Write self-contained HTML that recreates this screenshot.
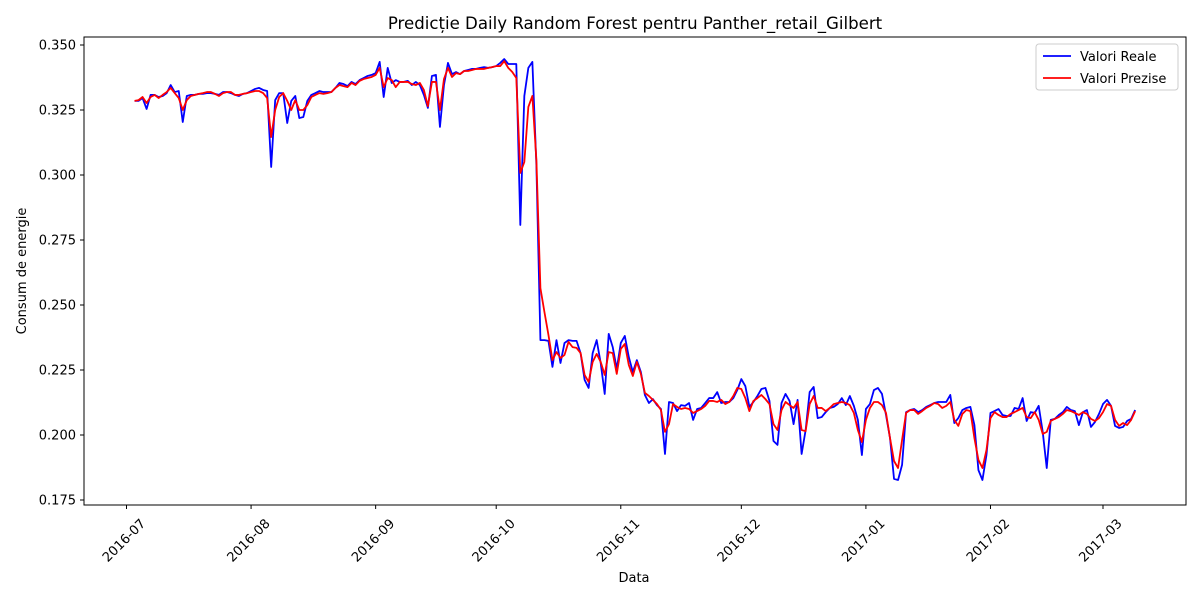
<!DOCTYPE html>
<html><head><meta charset="utf-8">
<style>
body{margin:0;background:#fff;}
svg{display:block;font-family:"DejaVu Sans","Liberation Sans",sans-serif;}
</style></head>
<body>
<svg id="chart" width="1200" height="600">
<rect x="0" y="0" width="1200" height="600" fill="#fff"/>
<text x="635" y="29" font-size="16.6" text-anchor="middle">Predicție Daily Random Forest pentru Panther_retail_Gilbert</text>
<text x="634" y="582" font-size="13" text-anchor="middle">Data</text>
<text transform="translate(26,271) rotate(-90)" font-size="13" text-anchor="middle">Consum de energie</text>
<g id="grid"></g>
<g id="series"></g>
<rect x="84" y="37" width="1102" height="468" fill="none" stroke="#000" stroke-width="1"/>
<g>
<rect x="1036" y="44" width="142" height="46" rx="3" fill="#fff" fill-opacity="0.8" stroke="#ccc"/>
<line x1="1043" y1="56" x2="1071" y2="56" stroke="#0000ff" stroke-width="1.8"/>
<text x="1080" y="61" font-size="13">Valori Reale</text>
<line x1="1043" y1="78" x2="1071" y2="78" stroke="#ff0000" stroke-width="1.8"/>
<text x="1080" y="83" font-size="13">Valori Prezise</text>
</g>
</svg>
<script>
const startDay = 2;
const realValues = [.3285,.3285,.3296,.3254,.3308,.3308,.3300,.3304,.3315,.3346,.3319,.3323,.3204,.3304,.3308,.3308,.3312,.3312,.3315,.3315,.3312,.3308,.3319,.3319,.3315,.3308,.3304,.3312,.3315,.3323,.3331,.3335,.3327,.3323,.3031,.3288,.3315,.3315,.3200,.3285,.3304,.3219,.3223,.3285,.3308,.3315,.3323,.3319,.3319,.3319,.3335,.3354,.3350,.3342,.3358,.3350,.3365,.3373,.3381,.3385,.3392,.3435,.3300,.3412,.3354,.3365,.3358,.3358,.3362,.3346,.3358,.3346,.3308,.3258,.3381,.3385,.3185,.3346,.3431,.3388,.3396,.3388,.3400,.3404,.3408,.3408,.3412,.3415,.3412,.3415,.3419,.3431,.3446,.3427,.3427,.3427,.2808,.3304,.3412,.3435,.3038,.2365,.2365,.2362,.2262,.2365,.2277,.2354,.2365,.2362,.2362,.2315,.2212,.2181,.2315,.2365,.2277,.2158,.2389,.2338,.2254,.2354,.2381,.2300,.2242,.2288,.2242,.2154,.2123,.2138,.2115,.2100,.1927,.2127,.2123,.2092,.2115,.2112,.2123,.2058,.2100,.2104,.2123,.2142,.2142,.2165,.2123,.2127,.2127,.2142,.2173,.2215,.2188,.2108,.2127,.2150,.2177,.2181,.2131,.1977,.1962,.2123,.2158,.2131,.2042,.2135,.1927,.2019,.2165,.2185,.2065,.2069,.2088,.2104,.2108,.2119,.2142,.2115,.2150,.2112,.2058,.1923,.2100,.2119,.2173,.2181,.2158,.2077,.1988,.1831,.1827,.1885,.2088,.2096,.2100,.2088,.2096,.2108,.2115,.2123,.2127,.2127,.2127,.2154,.2046,.2065,.2096,.2104,.2108,.2038,.1865,.1827,.1923,.2085,.2092,.2100,.2077,.2073,.2073,.2104,.2100,.2142,.2054,.2088,.2085,.2112,.2012,.1873,.2058,.2062,.2077,.2088,.2108,.2096,.2092,.2038,.2088,.2096,.2031,.2050,.2081,.2119,.2135,.2112,.2035,.2027,.2031,.2054,.2062,.2096];
const predValues = [.3285,.3288,.3300,.3277,.3300,.3308,.3296,.3308,.3319,.3335,.3315,.3296,.3250,.3288,.3304,.3308,.3312,.3315,.3319,.3319,.3312,.3304,.3315,.3319,.3319,.3308,.3308,.3312,.3315,.3319,.3323,.3323,.3315,.3296,.3146,.3250,.3300,.3315,.3285,.3250,.3288,.3250,.3250,.3269,.3300,.3308,.3315,.3312,.3315,.3319,.3335,.3346,.3342,.3338,.3354,.3346,.3362,.3369,.3373,.3377,.3385,.3412,.3338,.3373,.3365,.3338,.3358,.3358,.3358,.3350,.3346,.3354,.3327,.3265,.3358,.3358,.3250,.3369,.3412,.3377,.3392,.3388,.3400,.3400,.3404,.3408,.3408,.3408,.3412,.3415,.3419,.3419,.3438,.3412,.3396,.3373,.3008,.3050,.3262,.3304,.3058,.2565,.2473,.2385,.2288,.2319,.2296,.2308,.2358,.2338,.2335,.2315,.2231,.2204,.2281,.2312,.2281,.2231,.2319,.2315,.2235,.2331,.2350,.2269,.2227,.2281,.2235,.2162,.2150,.2135,.2119,.2096,.2012,.2042,.2119,.2108,.2100,.2104,.2100,.2085,.2092,.2100,.2112,.2131,.2131,.2127,.2135,.2119,.2127,.2150,.2181,.2177,.2142,.2092,.2131,.2142,.2154,.2138,.2119,.2042,.2019,.2096,.2127,.2115,.2104,.2127,.2019,.2015,.2119,.2150,.2104,.2104,.2092,.2104,.2119,.2123,.2127,.2123,.2115,.2085,.2019,.1973,.2058,.2104,.2127,.2127,.2115,.2085,.1988,.1900,.1873,.1981,.2085,.2096,.2096,.2081,.2092,.2104,.2112,.2123,.2119,.2104,.2112,.2127,.2058,.2035,.2081,.2096,.2092,.1988,.1904,.1873,.1942,.2065,.2088,.2077,.2069,.2069,.2081,.2088,.2096,.2104,.2069,.2065,.2088,.2058,.2004,.2012,.2054,.2062,.2069,.2081,.2096,.2092,.2085,.2077,.2088,.2081,.2062,.2054,.2065,.2088,.2119,.2112,.2058,.2035,.2046,.2038,.2058,.2092];
const yTicks = [0.175,0.200,0.225,0.250,0.275,0.300,0.325,0.350];
const xTickLabels = ["2016-07","2016-08","2016-09","2016-10","2016-11","2016-12","2017-01","2017-02","2017-03"];
const xTickDays = [0,31,62,92,123,153,184,215,243];

const NS="http://www.w3.org/2000/svg";
function xS(d){return 126.5 + d*(1103-126.5)/243;}
function yS(v){return 45 + (0.35 - v)*2600;}
const grid=document.getElementById('grid');
const series=document.getElementById('series');
function mk(tag,attrs,parent){const e=document.createElementNS(NS,tag);for(const k in attrs)e.setAttribute(k,attrs[k]);parent.appendChild(e);return e;}

yTicks.forEach(v=>{
  const y=yS(v);
  const t=mk('line',{x1:80,x2:84,y1:y,y2:y,stroke:'#000'},grid);
  
  
  const l=mk('text',{x:76,y:y+4.5,'font-size':13,'text-anchor':'end'},grid);
  l.textContent=v.toFixed(3);
  
  
});
xTickLabels.forEach((s,i)=>{
  const x=xS(xTickDays[i]);
  const t=mk('line',{x1:x,x2:x,y1:505,y2:509,stroke:'#000'},grid);
  
  
  const l=mk('text',{transform:`translate(${x-2},${541}) rotate(-45)`,'font-size':13,'text-anchor':'middle','dominant-baseline':'middle'},grid);
  l.textContent=s;
  
  
});
function line(vals,color,name){
  const pts=vals.map((v,i)=>xS(startDay+i).toFixed(2)+','+yS(v).toFixed(2)).join(' ');
  const p=mk('polyline',{points:pts,fill:'none',stroke:color,'stroke-width':1.8,'stroke-linejoin':'round'},series);
  
  
}
line(realValues,'#0000ff','real-values-line');
line(predValues,'#ff0000','predicted-values-line');
</script>
</body></html>
